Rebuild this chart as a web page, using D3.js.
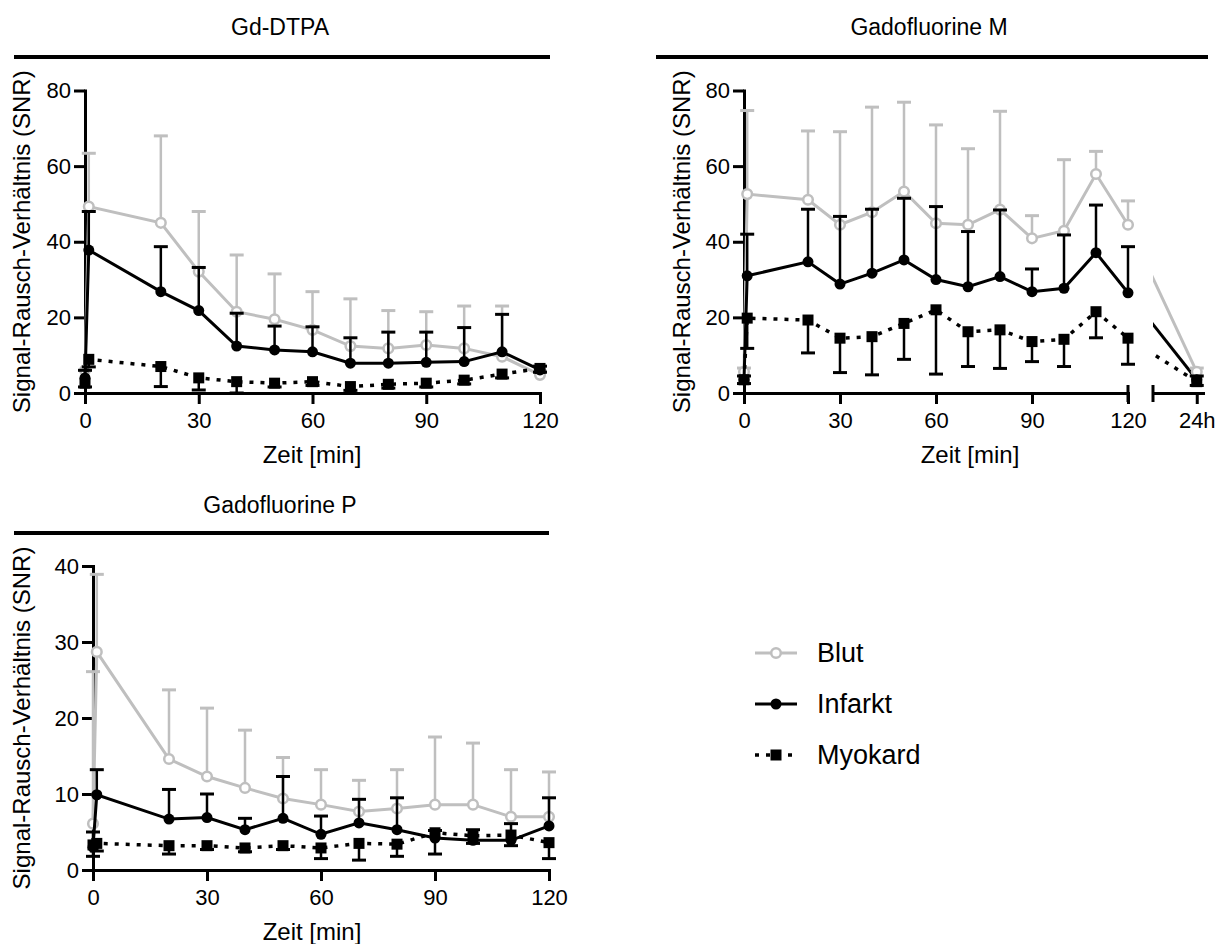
<!DOCTYPE html>
<html>
<head>
<meta charset="utf-8">
<script src="https://cdn.jsdelivr.net/npm/d3@7"></script>
<style>
  body { margin: 0; background: #fff; }
  text { font-family: "Liberation Sans", Arial, sans-serif; fill: #000; }
</style>
</head>
<body>
<div id="chart"></div>
<script>
// Time points (min), shared by all panels
const times = [0, 1, 20, 30, 40, 50, 60, 70, 80, 90, 100, 110, 120];
const xTickValues = [0, 30, 60, 90, 120];

// Gd-DTPA
const gdBlut = [6, 49.3, 45, 32.1, 21.5, 19.5, 16.7, 12.4, 11.8, 12.7, 11.8, 9.6, 4.8];
const gdBlutSd = [0, 14.1, 23, 15.9, 15, 12, 10.1, 12.5, 10, 8.8, 11.2, 13.4, 1];
const gdInfarkt = [4, 37.8, 26.8, 21.8, 12.4, 11.4, 10.9, 7.9, 7.9, 8.1, 8.3, 10.9, 6.1];
const gdInfarktSd = [2, 10.2, 11.9, 11.4, 8.7, 6.3, 6.6, 6.7, 8.2, 8.0, 9.0, 9.9, 1];
const gdMyokard = [2.6, 8.9, 7, 4, 3, 2.6, 3.0, 1.7, 2.3, 2.6, 3.4, 5, 6.5];
const gdMyokardSd = [1, 2, 5.3, 3.2, 3, 1, 1, 1, 1, 1, 1, 1, 1];

// Gadofluorine M (plus one late value at 24 h)
const gfmBlut = [5.6, 52.6, 51.1, 44.5, 47.8, 53.3, 44.9, 44.5, 48.5, 40.9, 42.9, 57.9, 44.5];
const gfmBlutSd = [1, 22.1, 18.2, 24.6, 27.8, 23.6, 26, 20.1, 26, 6, 18.8, 6, 6.3];
const gfmInfarkt = [3.5, 31, 34.7, 28.8, 31.7, 35.2, 30, 28.1, 30.8, 26.8, 27.7, 37.1, 26.5];
const gfmInfarktSd = [1, 11, 13.9, 17.9, 16.9, 16.3, 19.3, 14.6, 17.6, 6, 14.1, 12.6, 12.2];
const gfmMyokard = [3.5, 19.8, 19.3, 14.5, 14.9, 18.4, 22, 16.2, 16.7, 13.6, 14.2, 21.5, 14.5];
const gfmMyokardSd = [1, 8, 8.7, 9.1, 10.1, 9.5, 17, 9.2, 10.2, 5.3, 7.2, 6.9, 6.9];
const lateHours = 24;
const gfmLate = [5.6, 3.5, 3.0];   // Blut, Infarkt, Myokard at 24 h
const gfmLateSd = [1, 1, 1];

// Gadofluorine P
const gfpBlut = [6.1, 28.7, 14.6, 12.3, 10.8, 9.4, 8.6, 7.7, 8.1, 8.6, 8.6, 7.0, 7.0];
const gfpBlutSd = [20, 10.2, 9.1, 9, 7.6, 5.4, 4.6, 4.1, 5.1, 8.9, 8.1, 6.2, 5.9];
const gfpInfarkt = [3, 9.9, 6.7, 6.9, 5.3, 6.8, 4.7, 6.2, 5.3, 4.2, 3.9, 3.9, 5.8];
const gfpInfarktSd = [2, 3.3, 3.9, 3.1, 1.5, 5.5, 2.4, 3.1, 4.2, 1, 1.4, 2.2, 3.7];
const gfpMyokard = [3.3, 3.5, 3.2, 3.2, 2.9, 3.2, 2.9, 3.5, 3.4, 4.9, 4.5, 4.6, 3.6];
const gfpMyokardSd = [1.5, 1, 1.1, 0.5, 0.5, 0.5, 1.4, 2.2, 1.6, 2.8, 1, 1.4, 2.1];

const seriesNames = ["Blut", "Infarkt", "Myokard"];

// Styles
const grey = "#bfbfbf";
const fontFamily = '"Liberation Sans", Arial, sans-serif';
const styles = {
  Blut: { color: grey, marker: "circle", fill: "#fff", dash: null, width: 3, dir: 1 },
  Infarkt: { color: "#000", marker: "circle", fill: "#000", dash: null, width: 3, dir: 1 },
  Myokard: { color: "#000", marker: "square", fill: "#000", dash: "4,7", width: 3.5, dir: -1 }
};

const width = 1223;
const height = 944;

const svg = d3
  .select("#chart")
  .append("svg")
  .attr("width", width)
  .attr("height", height);

// Style an axis the way Prism draws it: thick black lines, large labels
function styleAxis(ax) {
  ax.attr("font-size", 22).attr("font-family", fontFamily);
  ax.select(".domain").attr("stroke", "#000").attr("stroke-width", 3).attr("stroke-linecap", "square");
  ax.selectAll(".tick line").attr("stroke", "#000").attr("stroke-width", 3);
  ax.selectAll(".tick text").attr("fill", "#000");
}

function drawTitle(text, cx, baseline, x0, x1, ruleY) {
  svg.append("text")
    .attr("x", cx)
    .attr("y", baseline)
    .attr("text-anchor", "middle")
    .attr("font-size", 23)
    .text(text);
  svg.append("line")
    .attr("x1", x0).attr("x2", x1)
    .attr("y1", ruleY).attr("y2", ruleY)
    .attr("stroke", "#000")
    .attr("stroke-width", 4);
}

function drawAxes(x, y, yTicks, yLabelX, xLabelX) {
  const xAxis = svg.append("g")
    .attr("transform", `translate(0, ${y.range()[0]})`)
    .call(d3.axisBottom(x).tickValues(xTickValues).tickSize(11).tickSizeOuter(0).tickPadding(8));
  styleAxis(xAxis);

  const yAxis = svg.append("g")
    .attr("transform", `translate(${x.range()[0]}, 0)`)
    .call(d3.axisLeft(y).tickValues(yTicks).tickSize(11).tickSizeOuter(0).tickPadding(3));
  styleAxis(yAxis);

  const yMid = (y.range()[0] + y.range()[1]) / 2;
  svg.append("text")
    .attr("transform", `translate(${yLabelX}, ${yMid}) rotate(-90)`)
    .attr("text-anchor", "middle")
    .attr("dy", "0.35em")
    .attr("font-size", 24)
    .text("Signal-Rausch-Verhältnis (SNR)");

  svg.append("text")
    .attr("x", xLabelX)
    .attr("y", y.range()[0] + 70)
    .attr("text-anchor", "middle")
    .attr("font-size", 24)
    .text("Zeit [min]");
}

function drawMarkers(g, pts, st, x, y) {
  if (st.marker === "circle") {
    g.selectAll(".mk")
      .data(pts)
      .join("circle")
      .attr("class", "mk")
      .attr("cx", (d) => x(d.t))
      .attr("cy", (d) => y(d.v))
      .attr("r", st.fill === "#fff" ? 4.8 : 5.5)
      .attr("fill", st.fill)
      .attr("stroke", st.color)
      .attr("stroke-width", st.fill === "#fff" ? 2.5 : 0);
  } else {
    g.selectAll(".mk")
      .data(pts)
      .join("rect")
      .attr("class", "mk")
      .attr("x", (d) => x(d.t) - 5.5)
      .attr("y", (d) => y(d.v) - 5.5)
      .attr("width", 11)
      .attr("height", 11)
      .attr("fill", st.fill);
  }
}

function drawErrorBars(g, pts, st, x, y) {
  const withSd = pts.filter((d) => d.sd > 0);
  g.selectAll(".eb")
    .data(withSd)
    .join("line")
    .attr("class", "eb")
    .attr("x1", (d) => x(d.t))
    .attr("x2", (d) => x(d.t))
    .attr("y1", (d) => y(d.v))
    .attr("y2", (d) => y(Math.max(0, d.v + st.dir * d.sd)))
    .attr("stroke", st.color)
    .attr("stroke-width", 2.5);
  g.selectAll(".cap")
    .data(withSd)
    .join("line")
    .attr("class", "cap")
    .attr("x1", (d) => x(d.t) - 7)
    .attr("x2", (d) => x(d.t) + 7)
    .attr("y1", (d) => y(Math.max(0, d.v + st.dir * d.sd)))
    .attr("y2", (d) => y(Math.max(0, d.v + st.dir * d.sd)))
    .attr("stroke", st.color)
    .attr("stroke-width", 3);
}

function drawSeries(name, vals, sds, x, y) {
  const st = styles[name];
  const pts = times.map((t, i) => ({ t, v: vals[i], sd: sds[i] }));
  const g = svg.append("g").attr("class", "series-" + name);
  drawErrorBars(g, pts, st, x, y);
  const line = d3.line().x((d) => x(d.t)).y((d) => y(d.v));
  g.append("path")
    .datum(pts)
    .attr("d", line)
    .attr("fill", "none")
    .attr("stroke", st.color)
    .attr("stroke-width", st.width)
    .attr("stroke-dasharray", st.dash);
  drawMarkers(g, pts, st, x, y);
  return g;
}

// ---------- Panel 1: Gd-DTPA ----------
const x1 = d3.scaleLinear().domain([0, 120]).range([85, 540]);
const y1 = d3.scaleLinear().domain([0, 80]).range([393, 90.5]);
drawTitle("Gd-DTPA", 280, 35, 14, 550, 57);
drawAxes(x1, y1, [0, 20, 40, 60, 80], 22, 312);
drawSeries("Blut", gdBlut, gdBlutSd, x1, y1);
drawSeries("Infarkt", gdInfarkt, gdInfarktSd, x1, y1);
drawSeries("Myokard", gdMyokard, gdMyokardSd, x1, y1);

// ---------- Panel 2: Gadofluorine M (broken x axis) ----------
const x2 = d3.scaleLinear().domain([0, 120]).range([744, 1128]);
const x2late = d3.scaleLinear().domain([22.25, 24.25]).range([1153, 1203]);
const y2 = d3.scaleLinear().domain([0, 80]).range([393, 90.5]);
drawTitle("Gadofluorine M", 929, 35, 656, 1208, 57);
drawAxes(x2, y2, [0, 20, 40, 60, 80], 682, 970);

// second axis segment for the 24 h value
const lateAxis = svg.append("g")
  .attr("transform", `translate(0, ${y2.range()[0]})`)
  .call(d3.axisBottom(x2late).tickValues([lateHours]).tickSize(11).tickSizeOuter(0).tickPadding(8)
    .tickFormat((d) => d + "h"));
styleAxis(lateAxis);

// break marks at both sides of the gap
[x2(120), x2late.range()[0]].forEach((bx) => {
  svg.append("line")
    .attr("x1", bx).attr("x2", bx)
    .attr("y1", y2.range()[0] - 8).attr("y2", y2.range()[0] + 9)
    .attr("stroke", "#000")
    .attr("stroke-width", 3);
});

svg.append("clipPath")
  .attr("id", "late-clip")
  .append("rect")
  .attr("x", x2late.range()[0])
  .attr("y", 0)
  .attr("width", 100)
  .attr("height", height);

const gfmVals = [gfmBlut, gfmInfarkt, gfmMyokard];
const gfmSds = [gfmBlutSd, gfmInfarktSd, gfmMyokardSd];
seriesNames.forEach((name, k) => {
  const st = styles[name];
  drawSeries(name, gfmVals[k], gfmSds[k], x2, y2);
  // connector from 120 min to 24 h, visible only across the second axis segment
  const last = gfmVals[k][gfmVals[k].length - 1];
  svg.append("line")
    .attr("clip-path", "url(#late-clip)")
    .attr("x1", x2(120)).attr("y1", y2(last))
    .attr("x2", x2late(lateHours)).attr("y2", y2(gfmLate[k]))
    .attr("stroke", st.color)
    .attr("stroke-width", st.width)
    .attr("stroke-dasharray", st.dash);
});
seriesNames.forEach((name, k) => {
  const st = styles[name];
  const g = svg.append("g");
  const pts = [{ t: lateHours, v: gfmLate[k], sd: gfmLateSd[k] }];
  drawErrorBars(g, pts, st, x2late, y2);
  drawMarkers(g, pts, st, x2late, y2);
});

// ---------- Panel 3: Gadofluorine P ----------
const x3 = d3.scaleLinear().domain([0, 120]).range([93, 549]);
const y3 = d3.scaleLinear().domain([0, 40]).range([870, 566]);
drawTitle("Gadofluorine P", 280, 513, 14, 549, 533);
drawAxes(x3, y3, [0, 10, 20, 30, 40], 22, 312);
drawSeries("Blut", gfpBlut, gfpBlutSd, x3, y3);
drawSeries("Infarkt", gfpInfarkt, gfpInfarktSd, x3, y3);
drawSeries("Myokard", gfpMyokard, gfpMyokardSd, x3, y3);

// ---------- Legend ----------
const legend = svg.append("g")
  .attr("id", "legend")
  .attr("transform", "translate(755, 653)");

const legendItems = legend
  .selectAll(".legend-item")
  .data(seriesNames)
  .enter()
  .append("g")
  .attr("class", "legend-item")
  .attr("transform", (d, i) => `translate(0, ${i * 51})`);

legendItems.append("line")
  .attr("x1", 0).attr("x2", 42)
  .attr("y1", 0).attr("y2", 0)
  .attr("stroke", (d) => styles[d].color)
  .attr("stroke-width", (d) => styles[d].width)
  .attr("stroke-dasharray", (d) => styles[d].dash);

legendItems.each(function (d) {
  const st = styles[d];
  const g = d3.select(this);
  if (st.marker === "circle") {
    g.append("circle")
      .attr("cx", 21).attr("cy", 0)
      .attr("r", st.fill === "#fff" ? 4.8 : 5.5)
      .attr("fill", st.fill)
      .attr("stroke", st.color)
      .attr("stroke-width", st.fill === "#fff" ? 2.5 : 0);
  } else {
    g.append("rect")
      .attr("x", 15.5).attr("y", -5.5)
      .attr("width", 11).attr("height", 11)
      .attr("fill", st.fill);
  }
});

legendItems.append("text")
  .attr("x", 62)
  .attr("y", 0)
  .attr("dy", "0.35em")
  .attr("font-size", 27)
  .text((d) => d);
</script>
</body>
</html>
